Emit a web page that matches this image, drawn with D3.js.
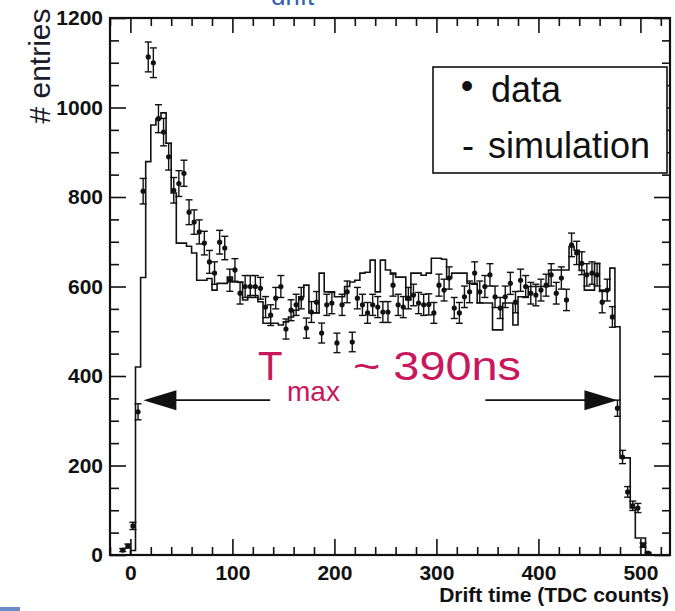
<!DOCTYPE html>
<html><head><meta charset="utf-8">
<script src="https://cdn.jsdelivr.net/npm/d3@7"></script>
<style>
body{margin:0;background:#fff;}
svg{display:block;font-family:"Liberation Sans",Arial,Helvetica,sans-serif;}
</style>
</head><body>
<svg id="c" width="675" height="611"></svg>
<script>
// ---- data ----
const dataX = [-7.5,-2.5,2.5,7.5,12.5,17.5,22.5,27.5,32.5,37.5,42.5,47.5,52.5,57.5,62.5,67.5,72.5,77.5,82.5,87.5,92.5,97.5,
  102.5,107.5,112.5,117.5,122.5,127.5,132.5,137.5,142.5,147.5,152.5,157.5,162.5,167.5,172.5,177.5,182.5,187.5,192.5,197.5,
  202.5,207.5,212.5,217.5,222.5,227.5,232.5,237.5,242.5,247.5,252.5,257.5,262.5,267.5,272.5,277.5,282.5,287.5,292.5,297.5,
  302.5,307.5,312.5,317.5,322.5,327.5,332.5,337.5,342.5,347.5,352.5,357.5,362.5,367.5,372.5,377.5,382.5,387.5,392.5,397.5,
  402.5,407.5,412.5,417.5,422.5,427.5,432.5,437.5,442.5,447.5,452.5,457.5,462.5,467.5,472.5,477.5,482.5,487.5,492.5,497.5,
  502.5,507.5];
const dataY = [11,20,65,320,813,1113,1100,975,945,890,815,830,853,766,744,722,697,655,630,699,686,614,
  637,585,600,600,600,596,554,536,574,600,505,547,559,574,507,543,565,496,559,563,
  474,559,588,476,574,559,541,559,554,543,543,603,559,554,574,581,563,559,560,541,
  603,592,619,552,541,577,588,630,588,600,626,577,552,577,607,565,614,600,585,581,
  592,603,626,585,619,570,693,675,652,626,630,626,565,592,532,328,219,141,110,105,
  22,4];

// simulation histogram: bin edges (one more than values) and contents
const simEdges = [-5,0,5,10,15,20,25,30,35,40,45,50,55,60,65,70,75,80,85,90,95,
  100,105,110,115,120,125,130,135,140,145,150,155,160,165,170,175,180,185,190,195,
  200,205,210,215,220,225,230,235,240,245,250,255,260,265,270,275,280,285,290,295,
  300,305,310,315,320,325,330,335,340,345,350,355,360,365,370,375,380,385,390,395,
  400,405,410,415,420,425,430,435,440,445,450,455,460,465,470,475,480,485,490,495,
  500,505,510,515];
const simY = [0,10,420,620,879,961,975,988,920,809,697,697,690,675,614,614,618,592,607,607,621,
  610,610,570,580,580,566,518,518,518,514,521,532,547,577,603,541,541,630,588,588,
  577,577,600,610,614,630,632,659,588,659,637,630,621,621,570,630,630,625,630,663,
  663,661,619,630,630,630,607,607,563,563,563,503,503,563,563,514,577,577,600,600,
  600,600,637,637,637,637,689,681,636,592,592,652,592,592,641,510,217,217,105,38,
  38,4,0];

const xTickValues = [0,100,200,300,400,500];
const xTickLabels = ["0","100","200","300","400","500"];
const yTickValues = [0,200,400,600,800,1000,1200];
const yTickLabels = ["0","200","400","600","800","1000","1200"];
const legendLabels = ["data","simulation"];
const legendSymbols = ["•","-"];
const xTitle = "Drift time (TDC counts)";
const yTitle = "# entries";
const annotMain = "T", annotSub = "max", annotRest = "~ 390ns";
const arrowY = 346;                  // entries level of the arrows
const arrowLeft = [12.7, 137];       // tip, tail (TDC counts)
const arrowRight = [348, 477.5];     // tail, tip

// ---- layout ----
const svg = d3.select("#c");
const L = 110, R = 670, T = 18, B = 555;
const x = d3.scaleLinear().domain([-20, 529]).range([L, R]);
const y = d3.scaleLinear().domain([0, 1200]).range([B, T]);
const ink = "#111";

// cut-off title at top and blue stub bottom-left (as in the reference)
svg.append("text").attr("x", 271).attr("y", 5).attr("font-size", 26)
  .attr("fill", "#2f5fb5").text("drift");
svg.append("rect").attr("x", 0).attr("y", 607).attr("width", 20).attr("height", 4).attr("fill", "#6a8cc8");

// axes
const xMinor = d3.range(-20, 530, 20).filter(v => v % 100 !== 0);
const yMinor = d3.range(0, 1201, 50).filter(v => v % 200 !== 0);
const fmtX = (d) => xTickLabels[xTickValues.indexOf(d)];
const fmtY = (d) => yTickLabels[yTickValues.indexOf(d)];

function styleAxis(g) {
  g.select(".domain").remove();
  g.selectAll(".tick line").attr("stroke", ink).attr("stroke-width", 1.6);
  g.selectAll(".tick text").attr("fill", ink).attr("font-size", 21).attr("font-weight", "bold")
    .attr("font-family", "'Liberation Sans',Arial,sans-serif");
}
svg.append("g").attr("transform", `translate(0,${B})`)
  .call(d3.axisBottom(x).tickValues(xTickValues).tickFormat(fmtX).tickSize(-16).tickPadding(10)).call(styleAxis);
svg.append("g").attr("transform", `translate(0,${B})`)
  .call(d3.axisBottom(x).tickValues(xMinor).tickFormat("").tickSize(-8)).call(styleAxis);
svg.append("g").attr("transform", `translate(0,${T})`)
  .call(d3.axisTop(x).tickValues(xTickValues).tickFormat("").tickSize(-15)).call(styleAxis);
svg.append("g").attr("transform", `translate(0,${T})`)
  .call(d3.axisTop(x).tickValues(xMinor).tickFormat("").tickSize(-8)).call(styleAxis);
svg.append("g").attr("transform", `translate(${L},0)`)
  .call(d3.axisLeft(y).tickValues(yTickValues).tickFormat(fmtY).tickSize(-16).tickPadding(7)).call(styleAxis);
svg.append("g").attr("transform", `translate(${L},0)`)
  .call(d3.axisLeft(y).tickValues(yMinor).tickFormat("").tickSize(-9)).call(styleAxis);
svg.append("g").attr("transform", `translate(${R},0)`)
  .call(d3.axisRight(y).tickValues(yTickValues).tickFormat("").tickSize(-16)).call(styleAxis);
svg.append("g").attr("transform", `translate(${R},0)`)
  .call(d3.axisRight(y).tickValues(yMinor).tickFormat("").tickSize(-8)).call(styleAxis);

// frame
svg.append("rect").attr("x", L).attr("y", T).attr("width", R - L).attr("height", B - T)
  .attr("fill", "none").attr("stroke", ink).attr("stroke-width", 2.2);

// axis titles
svg.append("text").attr("x", R - 1).attr("y", 602).attr("text-anchor", "end")
  .attr("font-size", 21).attr("font-weight", "bold").attr("fill", ink).text(xTitle);
svg.append("text").attr("transform", "translate(50,66) rotate(-90)").attr("text-anchor", "middle")
  .attr("font-size", 30).attr("fill", "#1c1c2c").text(yTitle);

// simulation histogram
const simPts = simY.map((v, i) => [simEdges[i], v]);
simPts.push([simEdges[simEdges.length - 1], simY[simY.length - 1]]);
svg.append("path").datum(simPts)
  .attr("d", d3.line().x(d => x(d[0])).y(d => y(d[1])).curve(d3.curveStepAfter))
  .attr("fill", "none").attr("stroke", ink).attr("stroke-width", 1.6);

// data points with Poisson error bars
const pts = svg.append("g").selectAll("g").data(dataX.map((d, i) => ({ x: d, y: dataY[i] }))).join("g");
pts.append("line").attr("x1", d => x(d.x)).attr("x2", d => x(d.x))
  .attr("y1", d => y(d.y + Math.sqrt(d.y))).attr("y2", d => y(Math.max(0, d.y - Math.sqrt(d.y))))
  .attr("stroke", ink).attr("stroke-width", 1.4);
pts.append("line").attr("x1", d => x(d.x) - 3.5).attr("x2", d => x(d.x) + 3.5)
  .attr("y1", d => y(d.y + Math.sqrt(d.y))).attr("y2", d => y(d.y + Math.sqrt(d.y)))
  .attr("stroke", ink).attr("stroke-width", 1.4);
pts.append("line").attr("x1", d => x(d.x) - 3.5).attr("x2", d => x(d.x) + 3.5)
  .attr("y1", d => y(Math.max(0, d.y - Math.sqrt(d.y)))).attr("y2", d => y(Math.max(0, d.y - Math.sqrt(d.y))))
  .attr("stroke", ink).attr("stroke-width", 1.4);
pts.append("circle").attr("cx", d => x(d.x)).attr("cy", d => y(d.y)).attr("r", 2.6).attr("fill", ink);

// legend
svg.append("rect").attr("x", 433).attr("y", 67).attr("width", 234).attr("height", 106)
  .attr("fill", "#fff").attr("stroke", ink).attr("stroke-width", 1.6);
svg.append("text").attr("x", 467).attr("y", 98).attr("text-anchor", "middle").attr("font-size", 36).attr("fill", ink).text(legendSymbols[0]);
svg.append("text").attr("x", 468).attr("y", 158).attr("text-anchor", "middle").attr("font-size", 36).attr("fill", ink).text(legendSymbols[1]);
svg.append("text").attr("x", 491).attr("y", 102).attr("font-size", 36).attr("fill", ink).text(legendLabels[0]);
svg.append("text").attr("x", 488).attr("y", 158).attr("font-size", 36).attr("fill", ink).text(legendLabels[1]);

// T_max annotation and arrows
const red = "#c8175d";
svg.append("text").attr("x", 258).attr("y", 380).attr("font-size", 40).attr("fill", red).text(annotMain);
svg.append("text").attr("x", 287).attr("y", 401).attr("font-size", 28).attr("fill", red).text(annotSub);
svg.append("text").attr("x", 353).attr("y", 380).attr("font-size", 40).attr("fill", red)
  .attr("textLength", 168).attr("lengthAdjust", "spacingAndGlyphs").text(annotRest);

const ay = y(arrowY);
function arrow(tipX, tailX) {
  const dir = Math.sign(tailX - tipX);
  svg.append("line").attr("x1", tipX + dir * 20).attr("x2", tailX).attr("y1", ay).attr("y2", ay)
    .attr("stroke", ink).attr("stroke-width", 1.6);
  svg.append("path").attr("d", `M${tipX},${ay} L${tipX + dir * 33},${ay - 10} L${tipX + dir * 33},${ay + 10} Z`)
    .attr("fill", ink);
}
arrow(x(arrowLeft[0]), x(arrowLeft[1]));
arrow(x(arrowRight[1]), x(arrowRight[0]));
</script>
</body></html>
